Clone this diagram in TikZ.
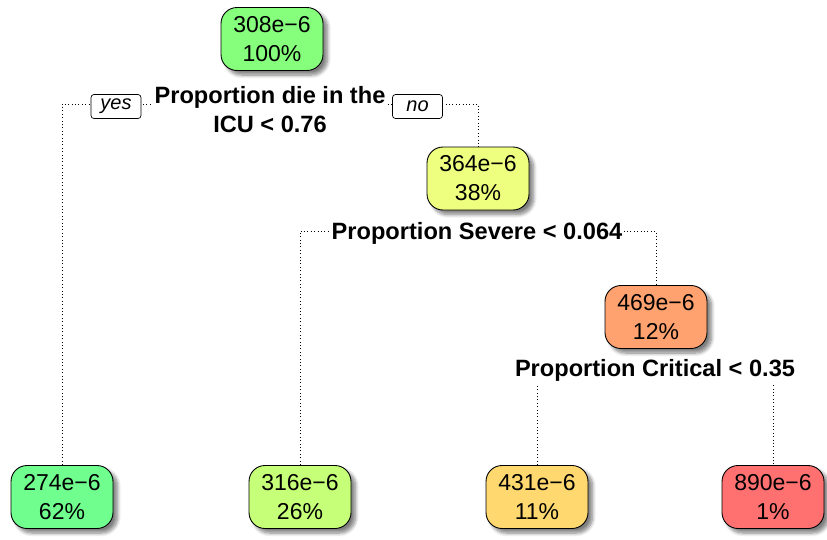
\documentclass[tikz,border=0pt]{standalone}
\usepackage{fontspec}
\setmainfont{Liberation Sans}
\usetikzlibrary{shadows.blur}
\definecolor{cRoot}{RGB}{134,255,125}
\definecolor{cTwo}{RGB}{238,255,128}
\definecolor{cThree}{RGB}{255,162,112}
\definecolor{cLa}{RGB}{112,255,142}
\definecolor{cLb}{RGB}{198,255,120}
\definecolor{cLc}{RGB}{255,216,112}
\definecolor{cLd}{RGB}{255,112,112}
\tikzset{
  valbox/.style={draw=black, line width=0.9pt, rounded corners=16pt, minimum width=102pt, minimum height=63pt,
    inner sep=0pt, align=center, font=\fontsize{23}{29}\selectfont,
    blur shadow={shadow xshift=4.5pt, shadow yshift=-4.5pt, shadow blur steps=8, shadow blur radius=3.5pt, shadow opacity=50}},
  splitlab/.style={fill=white, inner sep=2pt, align=center, font=\fontsize{23.6}{29}\selectfont\bfseries},
  yn/.style={draw=black, fill=white, line width=0.7pt, rounded corners=3pt, minimum width=50pt, minimum height=24pt,
    inner sep=0pt, font=\fontsize{20}{22}\selectfont\itshape},
  dotline/.style={line width=1pt, dash pattern=on 1pt off 2.4pt}
}
\begin{document}
\begin{tikzpicture}[x=1pt,y=1pt]
\useasboundingbox (0,0) rectangle (827,-539);
% nodes (boxes)
\node[valbox, fill=cRoot] (root) at (272,-39) {308e\textminus6\\100\%};
\node[valbox, fill=cTwo] (n2) at (478,-178.5) {364e\textminus6\\38\%};
\node[valbox, fill=cThree] (n3) at (656,-317) {469e\textminus6\\12\%};
\node[valbox, fill=cLa] (la) at (62,-497) {274e\textminus6\\62\%};
\node[valbox, fill=cLb] (lb) at (300,-497) {316e\textminus6\\26\%};
\node[valbox, fill=cLc] (lc) at (537,-497) {431e\textminus6\\11\%};
\node[valbox, fill=cLd] (ld) at (773,-497) {890e\textminus6\\1\%};
% connectors
\coordinate (c1L) at (62,-104);
\coordinate (c1R) at (478,-104);
\coordinate (c2L) at (300,-231);
\coordinate (c2R) at (656,-231);
\coordinate (c3L) at (537,-368);
\coordinate (c3R) at (773,-368);
\draw[dotline] (la.north) -- (c1L) -- (c1R) -- (n2.north);
\draw[dotline] (lb.north) -- (c2L) -- (c2R) -- (n3.north);
\draw[dotline] (lc.north) -- (c3L) -- (c3R) -- (ld.north);
% split labels
\node[splitlab] (s1) at (270,-110) {Proportion die in the\\ICU < 0.76};
\node[splitlab] (s2) at (477,-233) {Proportion Severe < 0.064};
\node[splitlab] (s3) at (655,-370.5) {Proportion Critical < 0.35};
\node[yn] (yes) at (116,-106.5) {yes};
\node[yn] (no) at (417.5,-106.5) {no};
\end{tikzpicture}
\end{document}
